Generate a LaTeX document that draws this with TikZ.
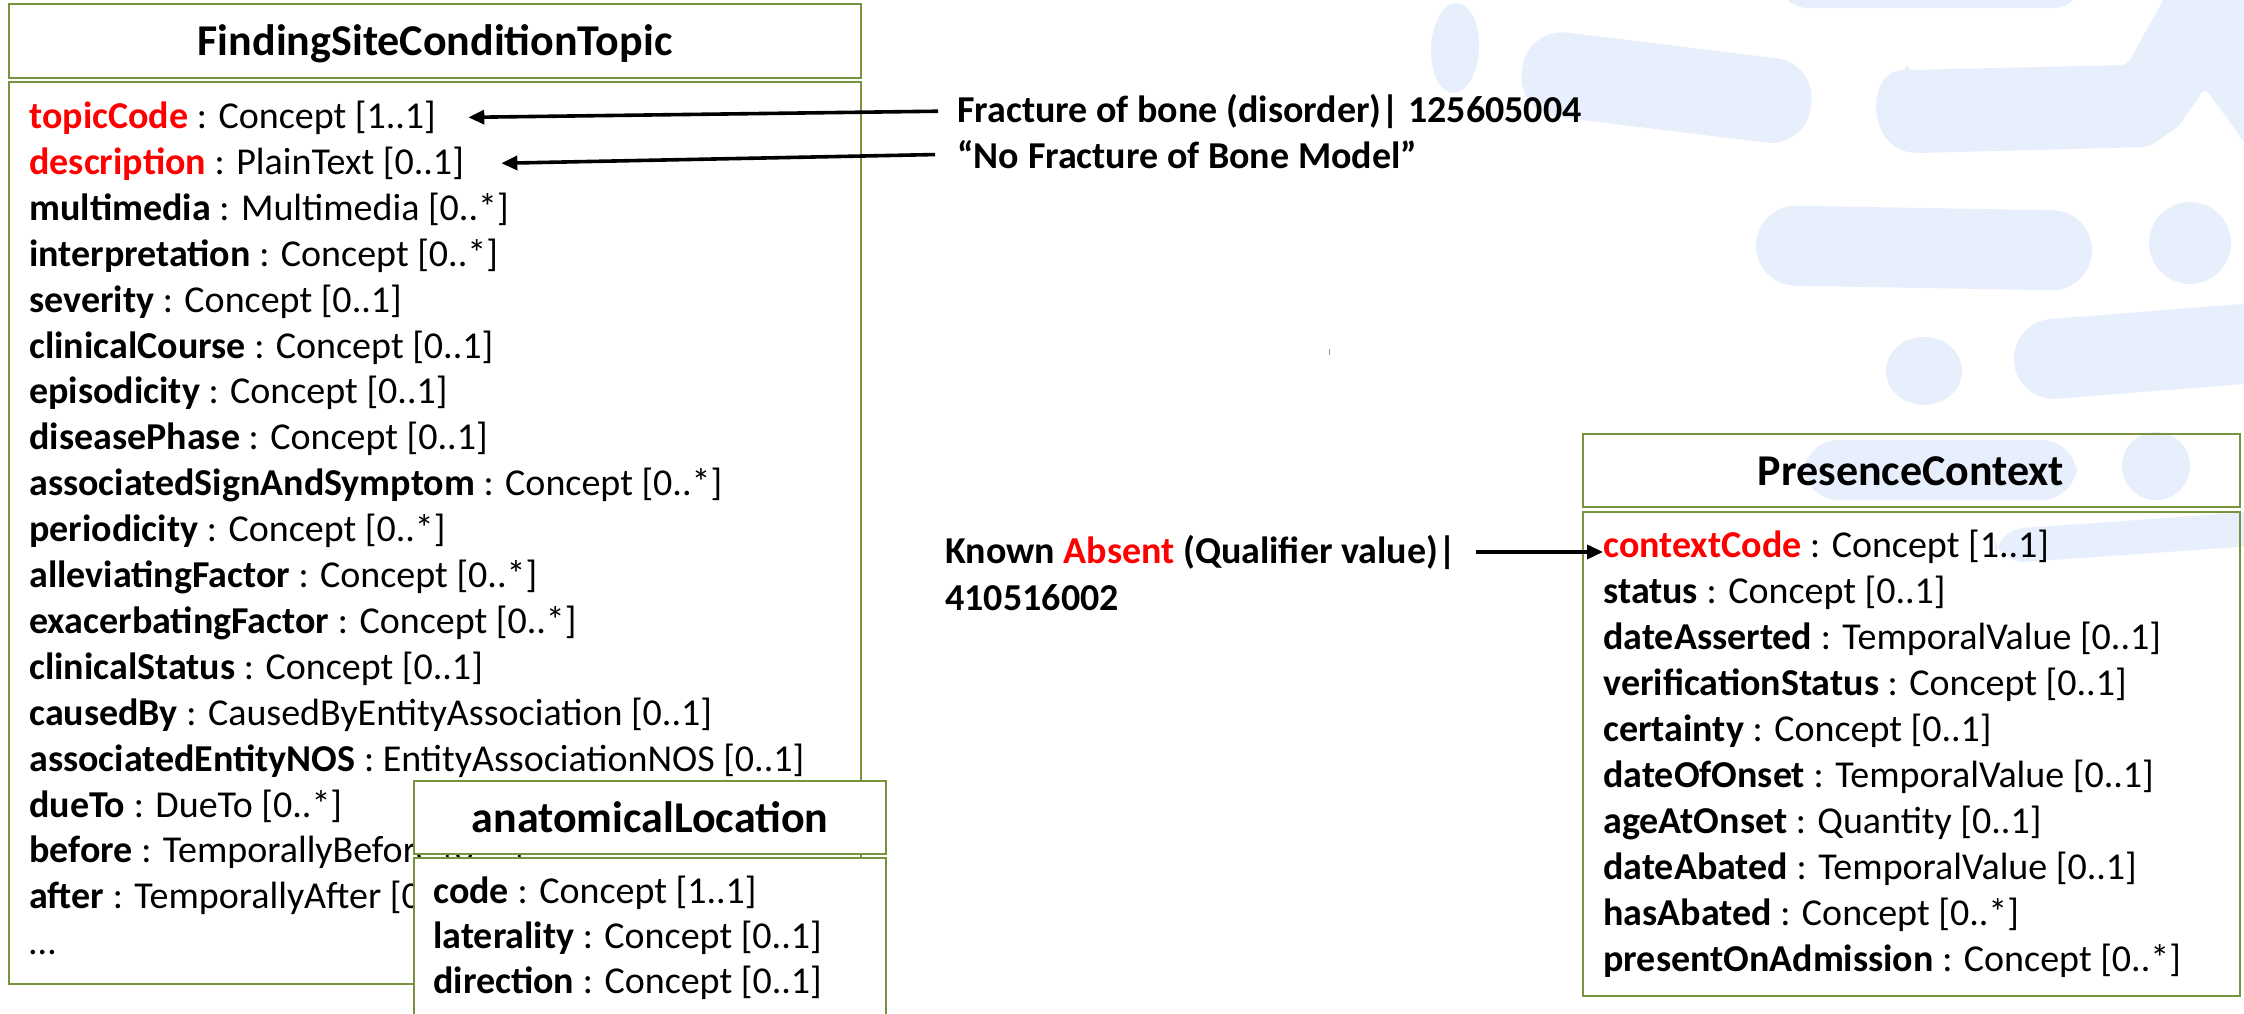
\documentclass[tikz,border=0pt]{standalone}
\usepackage{fontspec}
\setmainfont{Carlito}
\usetikzlibrary{arrows.meta}
\definecolor{boxgreen}{RGB}{119,147,60}
\definecolor{wm}{RGB}{232,239,252}
\definecolor{hired}{RGB}{255,0,0}
\begin{document}
\begin{tikzpicture}[x=0.5pt,y=-0.5pt,
  row/.style={anchor=base west, inner sep=0pt, font=\fontsize{19pt}{23pt}\selectfont},
  lbl/.style={anchor=base west, inner sep=0pt, font=\fontsize{19pt}{23pt}\selectfont\bfseries},
  ttl/.style={anchor=base, inner sep=0pt, font=\fontsize{22pt}{26pt}\selectfont\bfseries},
  box/.style={draw=boxgreen, line width=1.1pt},
  wbox/.style={draw=boxgreen, line width=1.1pt, fill=white},
  arr/.style={line width=1.8pt, -{Triangle[length=8pt,width=7pt]}}]
\useasboundingbox (0,0) rectangle (2244,1013);
\clip (0,0) rectangle (2244,1013);
\fill[white] (0,0) rectangle (2244,1013);
% watermark shapes
\fill[wm, rounded corners=15pt] (1778,-40) rectangle (2083,8);
\fill[wm, rotate around={-3:(1455,48)}] (1455,48) ellipse [x radius=24, y radius=45];
\fill[wm, rotate around={-7:(1666,88)}, rounded corners=20pt] (1521,45) rectangle (1812,130);
\fill[wm, rounded corners=3pt] (1907,70) -- (2127,65) -- (2166,-5) -- (2250,-5) -- (2250,150) -- (2205,88) -- (2178,127) -- (2148,147) -- (1920,153) .. controls (1866,150) and (1866,72) .. (1907,70) -- cycle;
\fill[wm, rotate around={-1:(1924,249)}, rounded corners=20pt] (1756,208) rectangle (2092,288);
\fill[wm] (2190,243) ellipse [x radius=41, y radius=41];
\fill[wm] (1924,371) ellipse [x radius=38, y radius=34];
\fill[wm, rotate around={4.5:(2014,362)}, rounded corners=20pt] (2014,322) rectangle (2360,402);
\fill[wm, rounded corners=18pt] (1803,440) rectangle (2077,500);
\fill[wm] (2156,466) ellipse [x radius=34, y radius=34];
\fill[wm, rotate around={4:(1995,547)}, rounded corners=15pt] (1995,530) rectangle (2360,564);
\draw[black!40, line width=0.5pt] (1329,349) -- (1329,355);

% FindingSiteConditionTopic
\draw[box] (9,4) rectangle (861,78);
\node[ttl] (t1) at (435,55) {FindingSiteConditionTopic};
\draw[box] (9,82) rectangle (861,984);
\node[row] (r0) at (29,128) {\textcolor{hired}{\textbf{topicCode}} : Concept [1..1]};
\node[row] (r1) at (29,174) {\textcolor{hired}{\textbf{description}} : PlainText [0..1]};
\node[row] (r2) at (29,220) {\textbf{multimedia} : Multimedia [0..*]};
\node[row] (r3) at (29,266) {\textbf{interpretation} : Concept [0..*]};
\node[row] (r4) at (29,312) {\textbf{severity} : Concept [0..1]};
\node[row] (r5) at (29,358) {\textbf{clinicalCourse} : Concept [0..1]};
\node[row] (r6) at (29,403) {\textbf{episodicity} : Concept [0..1]};
\node[row] (r7) at (29,449) {\textbf{diseasePhase} : Concept [0..1]};
\node[row] (r8) at (29,495) {\textbf{associatedSignAndSymptom} : Concept [0..*]};
\node[row] (r9) at (29,541) {\textbf{periodicity} : Concept [0..*]};
\node[row] (r10) at (29,587) {\textbf{alleviatingFactor} : Concept [0..*]};
\node[row] (r11) at (29,633) {\textbf{exacerbatingFactor} : Concept [0..*]};
\node[row] (r12) at (29,679) {\textbf{clinicalStatus} : Concept [0..1]};
\node[row] (r13) at (29,725) {\textbf{causedBy} : CausedByEntityAssociation [0..1]};
\node[row] (r14) at (29,771) {\textbf{associatedEntityNOS} : EntityAssociationNOS [0..1]};
\node[row] (r15) at (29,817) {\textbf{dueTo} : DueTo [0..*]};
\node[row] (r16) at (29,862) {\textbf{before} : TemporallyBefore [0..*]};
\node[row] (r17) at (29,908) {\textbf{after} : TemporallyAfter [0..*]};
\node[row] (r18) at (29,954) {…};

% anatomicalLocation
\draw[wbox] (414,781) rectangle (886,854);
\node[ttl] (t2) at (650,832) {anatomicalLocation};
\draw[wbox] (414,858) rectangle (886,1040);
\node[row] (a0) at (433,903) {\textbf{code} : Concept [1..1]};
\node[row] (a1) at (433,948) {\textbf{laterality} : Concept [0..1]};
\node[row] (a2) at (433,993) {\textbf{direction} : Concept [0..1]};

% PresenceContext
\draw[box] (1583,434) rectangle (2240,507);
\node[ttl] (t3) at (1911,485) {PresenceContext};
\draw[box] (1583,512) rectangle (2240,996);
\node[row] (c0) at (1603,557) {\textcolor{hired}{\textbf{contextCode}} : Concept [1..1]};
\node[row] (c1) at (1603,603) {\textbf{status} : Concept [0..1]};
\node[row] (c2) at (1603,649) {\textbf{dateAsserted} : TemporalValue [0..1]};
\node[row] (c3) at (1603,695) {\textbf{verificationStatus} : Concept [0..1]};
\node[row] (c4) at (1603,741) {\textbf{certainty} : Concept [0..1]};
\node[row] (c5) at (1603,787) {\textbf{dateOfOnset} : TemporalValue [0..1]};
\node[row] (c6) at (1603,833) {\textbf{ageAtOnset} : Quantity [0..1]};
\node[row] (c7) at (1603,879) {\textbf{dateAbated} : TemporalValue [0..1]};
\node[row] (c8) at (1603,925) {\textbf{hasAbated} : Concept [0..*]};
\node[row] (c9) at (1603,971) {\textbf{presentOnAdmission} : Concept [0..*]};

% value labels and arrows
\node[lbl] (fx) at (957,122) {Fracture of bone (disorder)| 125605004};
\node[lbl] (nf) at (957,168) {“No Fracture of Bone Model”};
\node[lbl] (ka1) at (945,563) {Known \textcolor{hired}{Absent} (Qualifier value)|};
\node[lbl] (ka2) at (945,610) {410516002};
\draw[arr, shorten <=9.5pt] (fx.west) -- ([xshift=16pt]r0.east);
\draw[arr, shorten <=11pt] (nf.west) -- ([xshift=18.5pt]r1.east);
\draw[arr, shorten <=10pt] (ka1.east) -- (ka1.east -| c0.west);
\end{tikzpicture}
\end{document}
